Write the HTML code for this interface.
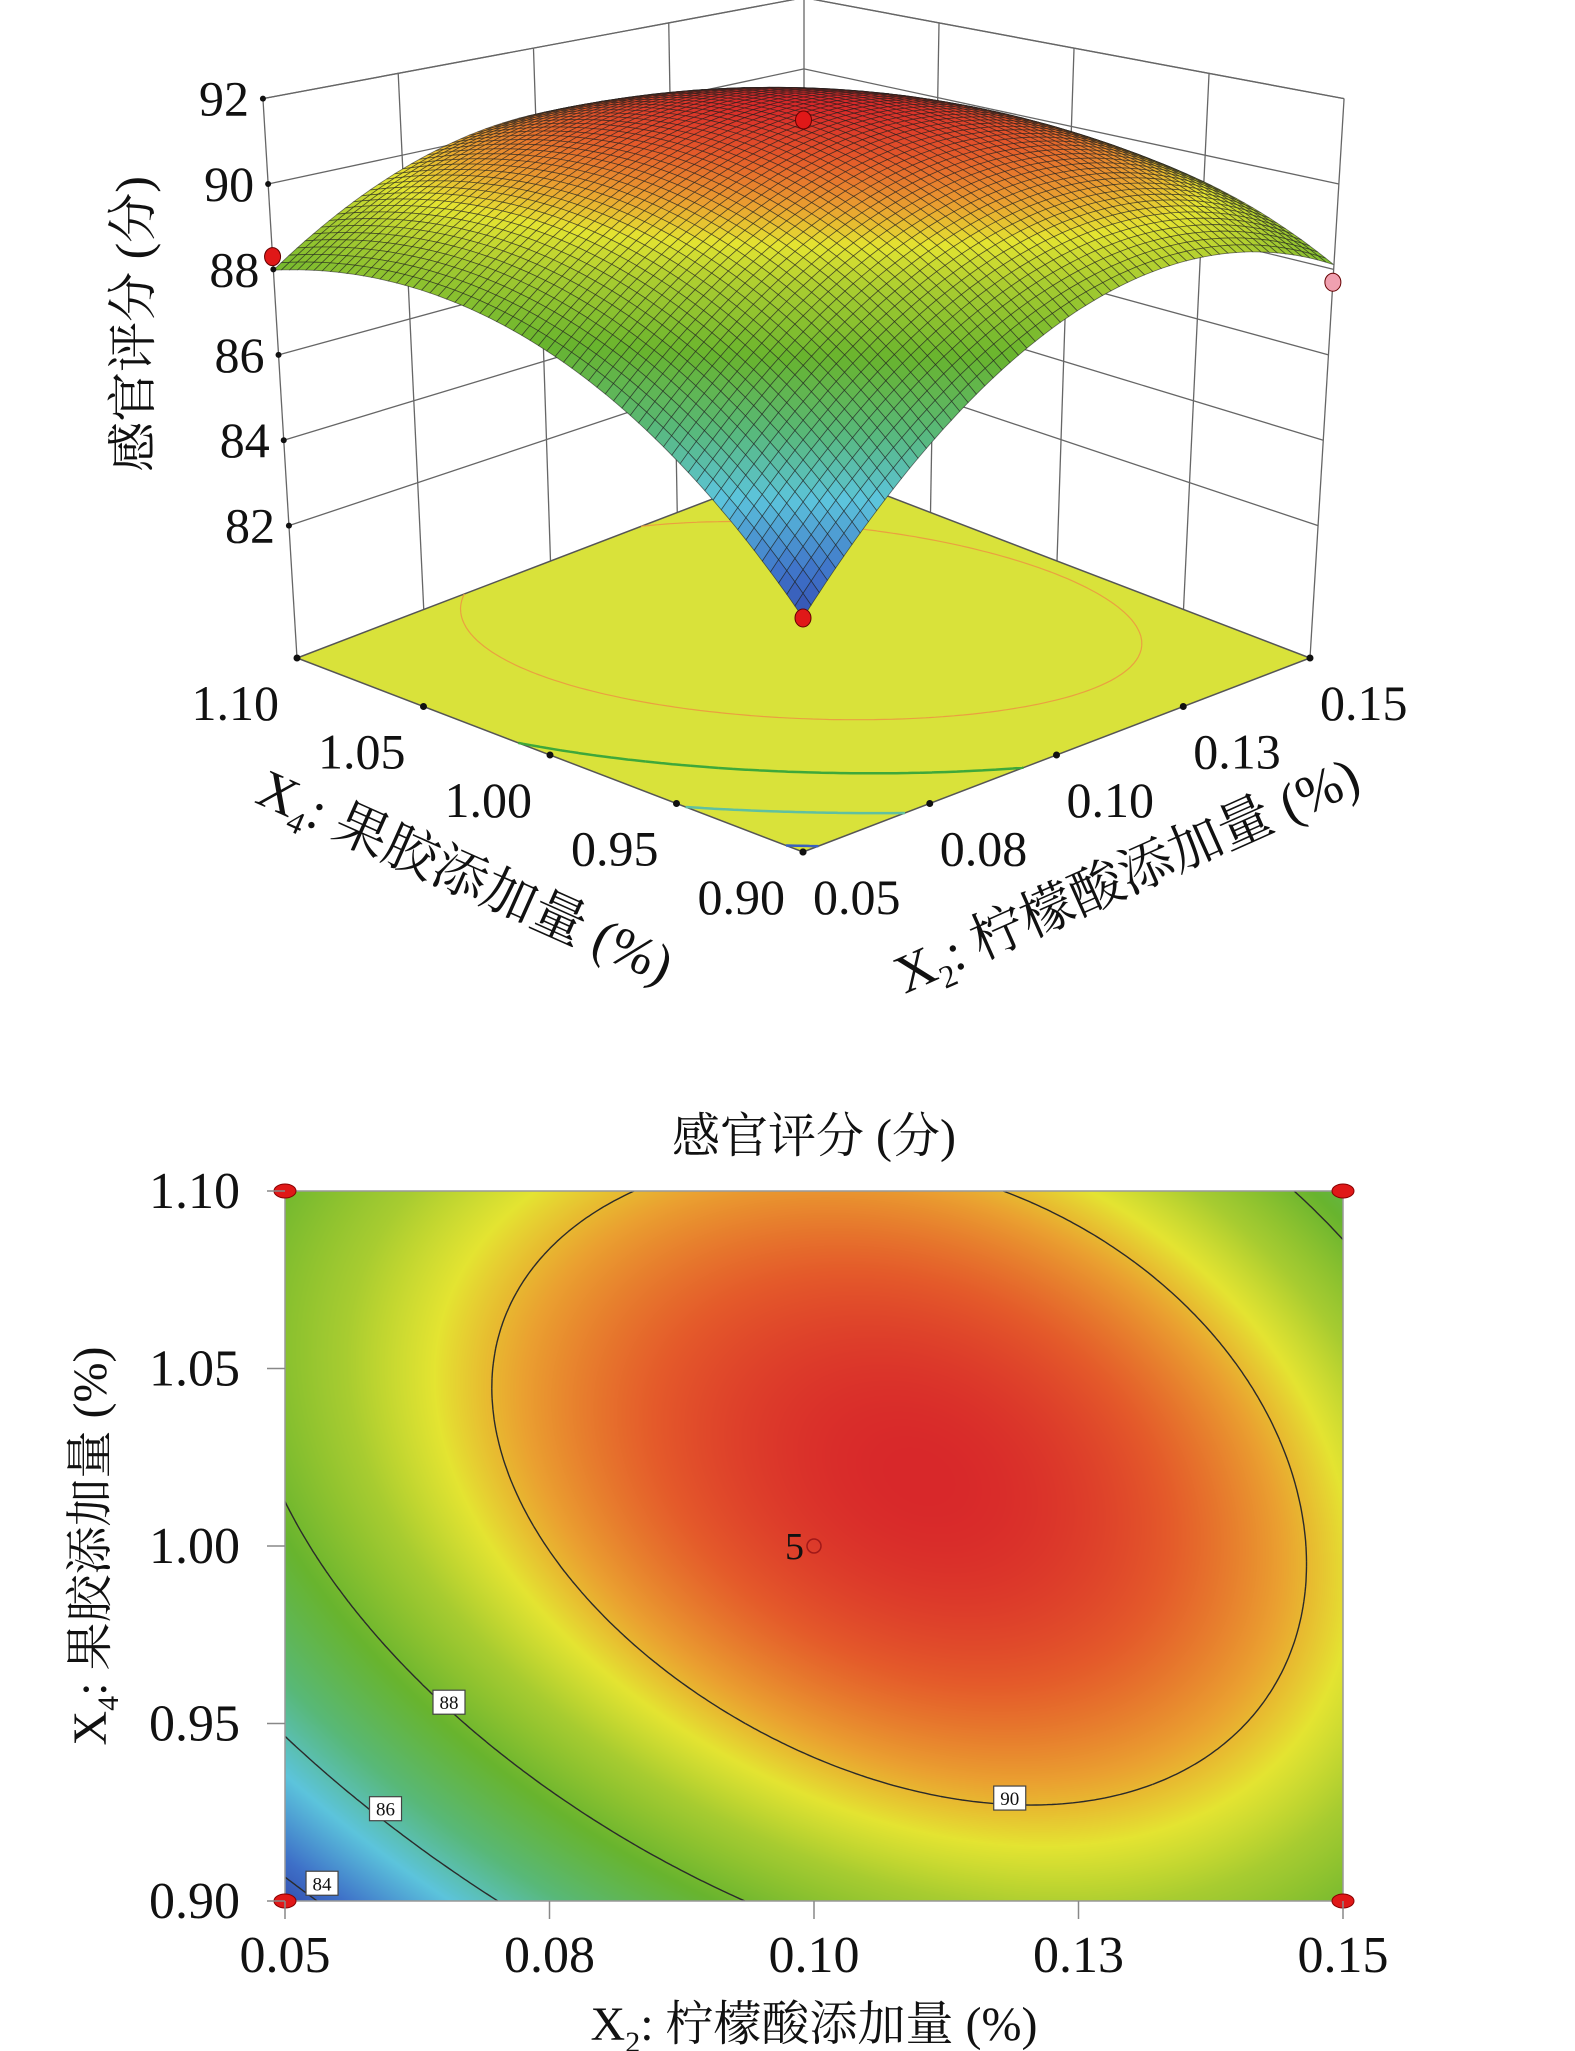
<!DOCTYPE html>
<html><head><meta charset="utf-8">
<style>
html,body{margin:0;padding:0;background:#fff;}
#wrap{position:relative;width:1575px;height:2051px;overflow:hidden;}
#heat{position:absolute;left:285px;top:1191px;}
svg{position:absolute;left:0;top:0;}
text{font-family:"Liberation Serif","Noto Serif CJK SC",serif;fill:#111;}
</style></head>
<body>
<div id="wrap">
<canvas id="heat" width="1058" height="710"></canvas>
<svg id="svg" width="1575" height="2051" xmlns="http://www.w3.org/2000/svg">
<g id="g3d"></g>
<g id="g2d"></g>
</svg>
</div>
<script>
// ---- data ----
const x2Ticks = [0.05, 0.075, 0.10, 0.125, 0.15];
const x2Labels = ['0.05', '0.08', '0.10', '0.13', '0.15'];
const x4Ticks = [0.90, 0.95, 1.00, 1.05, 1.10];
const x4Labels = ['0.90', '0.95', '1.00', '1.05', '1.10'];
const zTicks = [82, 84, 86, 88, 90, 92];
// sensory score grid: rows = x4Ticks (0.90 -> 1.10), cols = x2Ticks
const scoreRow090 = [83.6, 86.6, 88.3, 89.0, 88.2];
const scoreRow095 = [86.2, 88.6, 90.1, 90.6, 89.2];
const scoreRow100 = [87.8, 90.0, 91.5, 91.6, 89.7];
const scoreRow105 = [88.3, 90.2, 91.3, 91.0, 88.8];
const scoreRow110 = [88.0, 89.7, 90.6, 89.1, 87.8];
const contourLevels = [84, 86, 88, 90];
const designX2 = [0.10, 0.05, 0.15, 0.05];
const designX4 = [1.00, 1.10, 0.90, 0.90];
const designScore = [91.5, 88.3, 87.7, 83.6];

const grid = [scoreRow090, scoreRow095, scoreRow100, scoreRow105, scoreRow110];
const NS = 'http://www.w3.org/2000/svg';
function mk(tag, attrs, parent) {
  const e = document.createElementNS(NS, tag);
  for (const k in attrs) e.setAttribute(k, attrs[k]);
  parent.appendChild(e); return e;
}
// least-squares full cubic surface fitted to the grid
function basis(a,b){return [1,a,b,a*a,a*b,b*b,a*a*a,a*a*b,a*b*b,b*b*b];}
const coef=(function(){
  const n=10;const A=[];const y=[];
  for(let r=0;r<grid.length;r++)for(let c=0;c<grid[r].length;c++){
    A.push(basis(c/(grid[r].length-1)*2-1,r/(grid.length-1)*2-1));y.push(grid[r][c]);}
  const M=[];for(let i=0;i<n;i++){M.push([]);for(let j=0;j<=n;j++){let s=0;
    for(let k=0;k<A.length;k++)s+=A[k][i]*(j<n?A[k][j]:y[k]);M[i].push(s);}}
  for(let i=0;i<n;i++){let p=i;for(let k=i+1;k<n;k++)if(Math.abs(M[k][i])>Math.abs(M[p][i]))p=k;
    [M[i],M[p]]=[M[p],M[i]];
    for(let k=0;k<n;k++){if(k===i)continue;const fct=M[k][i]/M[i][i];for(let j=i;j<=n;j++)M[k][j]-=fct*M[i][j];}}
  return M.map((row,i)=>row[n]/row[i]);
})();
function f(u,v){const b=basis(u*2-1,v*2-1);let s=0;for(let i=0;i<b.length;i++)s+=b[i]*coef[i];return s;}
const uOf=x2=>(x2-x2Ticks[0])/(x2Ticks[x2Ticks.length-1]-x2Ticks[0]);
const vOf=x4=>(x4-x4Ticks[0])/(x4Ticks[x4Ticks.length-1]-x4Ticks[0]);
// colormap
const cstops=[[83,[44,56,156]],[84.3,[62,112,200]],[85.5,[92,196,220]],[86.6,[88,184,120]],[87.8,[104,180,46]],[88.9,[168,204,48]],[89.6,[228,228,49]],[90.2,[234,160,48]],[90.9,[228,90,42]],[91.5,[216,40,42]]];
function cmap(z){
  if(z<=cstops[0][0])return cstops[0][1];
  for(let k=1;k<cstops.length;k++){if(z<=cstops[k][0]){const a=cstops[k-1],b=cstops[k],t=(z-a[0])/(b[0]-a[0]);
    return [0,1,2].map(q=>Math.round(a[1][q]+(b[1][q]-a[1][q])*t));}}
  return cstops[cstops.length-1][1];
}
// marching squares
function contourSegs(level,N,M){
  const segs=[];const val=[];
  for(let j=0;j<=M;j++){val.push([]);for(let i=0;i<=N;i++)val[j].push(f(i/N,j/M));}
  for(let j=0;j<M;j++)for(let i=0;i<N;i++){
    const c=[[i,j,val[j][i]],[i+1,j,val[j][i+1]],[i+1,j+1,val[j+1][i+1]],[i,j+1,val[j+1][i]]];
    const pts=[];
    for(let k=0;k<4;k++){const a=c[k],b=c[(k+1)%4];
      if((a[2]-level)*(b[2]-level)<0){const t=(level-a[2])/(b[2]-a[2]);pts.push([(a[0]+(b[0]-a[0])*t)/N,(a[1]+(b[1]-a[1])*t)/M]);}}
    if(pts.length>=2)segs.push([pts[0],pts[1]]);
    if(pts.length===4)segs.push([pts[2],pts[3]]);
  }
  return segs;
}

// ===== 2D contour plot =====
const g2=document.getElementById('g2d');
const PX0=285,PX1=1343,PY0=1191,PY1=1901;
const sx=x2=>PX0+uOf(x2)*(PX1-PX0);
const sy=x4=>PY1-vOf(x4)*(PY1-PY0);
(function(){
  const cv=document.getElementById('heat');const ctx=cv.getContext('2d');
  const W=cv.width,H=cv.height;const img=ctx.createImageData(W,H);
  for(let y=0;y<H;y++)for(let x=0;x<W;x++){const c=cmap(f(x/(W-1),1-y/(H-1)));const o=(y*W+x)*4;
    img.data[o]=c[0];img.data[o+1]=c[1];img.data[o+2]=c[2];img.data[o+3]=255;}
  ctx.putImageData(img,0,0);
})();
contourLevels.forEach(L=>{
  let d='';contourSegs(L,200,140).forEach(s=>{d+='M'+(PX0+s[0][0]*(PX1-PX0)).toFixed(1)+','+(PY1-s[0][1]*(PY1-PY0)).toFixed(1)+'L'+(PX0+s[1][0]*(PX1-PX0)).toFixed(1)+','+(PY1-s[1][1]*(PY1-PY0)).toFixed(1);});
  const p=mk('path',{d:d,stroke:'#2a2a2a','stroke-width':1.4,fill:'none'},g2);
  
  
});
const fr=mk('rect',{x:PX0,y:PY0,width:PX1-PX0,height:PY1-PY0,fill:'none',stroke:'#999','stroke-width':1.5},g2);

// contour labels
const labX2=[0.0655,0.0595,0.0535,0.1185];const labX4=[0.956,0.926,0.905,0.929];const labTxt=['88','86','84','90'];
labTxt.forEach((t,k)=>{
  const g=mk('g',{},g2);
  mk('rect',{x:sx(labX2[k])-16,y:sy(labX4[k])-12,width:32,height:24,fill:'#fff',stroke:'#444','stroke-width':1.2},g);
  const tx=mk('text',{x:sx(labX2[k]),y:sy(labX4[k])+7,'text-anchor':'middle','font-size':19,'font-family':'Liberation Sans, sans-serif'},g);tx.textContent=t;
});
// center marker
const cm=mk('circle',{cx:sx(0.10),cy:sy(1.00),r:7,fill:'none',stroke:'#a01818','stroke-width':1.5},g2);

const cl=mk('text',{x:sx(0.10)-10,y:sy(1.00)+13,'text-anchor':'end','font-size':38},g2);cl.textContent='5';

// corner design points
[[0.05,1.10],[0.15,1.10],[0.05,0.90],[0.15,0.90]].forEach(p=>{
  const e=mk('ellipse',{cx:sx(p[0]),cy:sy(p[1]),rx:11,ry:7,fill:'#e01818',stroke:'#800','stroke-width':1},g2);
  
});
// ticks
x2Ticks.forEach((t,k)=>{
  mk('line',{x1:sx(t),x2:sx(t),y1:PY1,y2:PY1+18,stroke:'#888','stroke-width':1.5},g2);
  const tx=mk('text',{x:sx(t),y:1972,'text-anchor':'middle','font-size':52},g2);tx.textContent=x2Labels[k];
  
});
x4Ticks.forEach((t,k)=>{
  mk('line',{x1:PX0-18,x2:PX0,y1:sy(t),y2:sy(t),stroke:'#888','stroke-width':1.5},g2);
  const tx=mk('text',{x:240,y:sy(t)+17,'text-anchor':'end','font-size':52},g2);tx.textContent=x4Labels[k];
  
});
(function(){
  const t=mk('text',{x:814,y:1152,'text-anchor':'middle','font-size':48},g2);t.textContent='感官评分 (分)';
  
  const xt=mk('text',{x:814,y:2040,'text-anchor':'middle','font-size':48},g2);
  xt.innerHTML='X<tspan font-size="30" dy="12">2</tspan><tspan dy="-12">: 柠檬酸添加量 (%)</tspan>';
  
  const yt=mk('text',{x:0,y:0,'text-anchor':'middle','font-size':48,transform:'translate(106,1546) rotate(-90)'},g2);
  yt.innerHTML='X<tspan font-size="30" dy="12">4</tspan><tspan dy="-12">: 果胶添加量 (%)</tspan>';
  
})();

// ===== 3D surface =====
const g3=document.getElementById('g3d');
const F=[803,852],L=[297,658],R=[1310,658];
const zFloor=78.9;
function proj(u,v,z){
  const bx=F[0]+u*(R[0]-F[0])+v*(L[0]-F[0]);
  const by=F[1]+u*(R[1]-F[1])+v*(L[1]-F[1]);
  const kz=49.8-7.1*(u+v);
  return [bx+(z-zFloor)*(u-v)*2.6, by-(z-zFloor)*kz];
}
const P=(u,v,z)=>proj(u,v,z).map(q=>q.toFixed(1)).join(',');
const zTop=92;
function line3(a,b,attrs,name){const l=mk('line',Object.assign({x1:a[0],y1:a[1],x2:b[0],y2:b[1],stroke:'#666','stroke-width':1.3},attrs||{}),g3);
  return l;}
zTicks.forEach(z=>{
  line3(proj(0,1,z),proj(1,1,z),{},'left-wall-gridline');
  line3(proj(1,0,z),proj(1,1,z),{},'right-wall-gridline');
});
[0.25,0.5,0.75].forEach(t=>{
  line3(proj(t,1,zFloor),proj(t,1,zTop),{},'left-wall-gridline');
  line3(proj(1,t,zFloor),proj(1,t,zTop),{},'right-wall-gridline');
});
line3(proj(1,1,zFloor),proj(1,1,zTop),{},'back-edge');
// floor
const fl=mk('polygon',{points:[P(0,0,zFloor),P(1,0,zFloor),P(1,1,zFloor),P(0,1,zFloor)].join(' '),fill:'#d9e23a',stroke:'#555','stroke-width':1.5},g3);

const floorCol={84:'#3a60c0',86:'#60c0a0',88:'#3ea83a',90:'#eaa040'};
contourLevels.forEach(Lv=>{
  let d='';contourSegs(Lv,90,90).forEach(s=>{const a=proj(s[0][0],s[0][1],zFloor),b=proj(s[1][0],s[1][1],zFloor);
    d+='M'+a[0].toFixed(1)+','+a[1].toFixed(1)+'L'+b[0].toFixed(1)+','+b[1].toFixed(1);});
  const p=mk('path',{d:d,stroke:floorCol[Lv],'stroke-width':Lv===90?1.2:2.5,fill:'none'},g3);
  
});
// surface mesh
(function(){
  const N=64;const cells=[];
  for(let j=0;j<N;j++)for(let i=0;i<N;i++)cells.push([i,j]);
  cells.sort((a,b)=>(b[0]+b[1])-(a[0]+a[1]));
  const sg=mk('g',{},g3);
  let html='';
  cells.forEach(c=>{const u0=c[0]/N,u1=(c[0]+1)/N,v0=c[1]/N,v1=(c[1]+1)/N;
    const zc=f((u0+u1)/2,(v0+v1)/2);const col=cmap(zc);
    html+='<polygon points="'+P(u0,v0,f(u0,v0))+' '+P(u1,v0,f(u1,v0))+' '+P(u1,v1,f(u1,v1))+' '+P(u0,v1,f(u0,v1))+'" fill="rgb('+col.join(',')+')" stroke="#1c1c1c" stroke-opacity="0.6" stroke-width="0.8"/>';});
  sg.innerHTML=html;
})();
line3(proj(0,1,zTop),proj(1,1,zTop),{},'top-edge');
line3(proj(1,0,zTop),proj(1,1,zTop),{},'top-edge');
line3(proj(0,1,zFloor),proj(0,1,zTop),{},'left-z-axis');
line3(proj(1,0,zFloor),proj(1,0,zTop),{},'right-edge');
// design points
designX2.forEach((x,k)=>{
  const p=proj(uOf(x),vOf(designX4[k]),designScore[k]);
  const e=mk('ellipse',{cx:p[0],cy:p[1],rx:8,ry:9,fill:(x===0.15)?'#f0a0b0':'#e01818',stroke:'#600','stroke-width':1},g3);
  
});
// z ticks
zTicks.forEach(z=>{
  const p=proj(0,1,z);mk('circle',{cx:p[0],cy:p[1],r:3,fill:'#111'},g3);
  const t=mk('text',{x:p[0]-14,y:p[1]+17,'text-anchor':'end','font-size':50},g3);t.textContent=z;
  
});
// floor edge ticks & labels
x4Ticks.forEach((t,k)=>{
  const p=proj(0,vOf(t),zFloor);mk('circle',{cx:p[0],cy:p[1],r:3.5,fill:'#111'},g3);
  const tx=mk('text',{x:p[0]-18,y:p[1]+62,'text-anchor':'end','font-size':50},g3);tx.textContent=x4Labels[k];
  
});
x2Ticks.forEach((t,k)=>{
  const p=proj(uOf(t),0,zFloor);mk('circle',{cx:p[0],cy:p[1],r:3.5,fill:'#111'},g3);
  const tx=mk('text',{x:p[0]+10,y:p[1]+62,'text-anchor':'start','font-size':50},g3);tx.textContent=x2Labels[k];
  
});
(function(){
  const yt=mk('text',{x:0,y:0,'text-anchor':'middle','font-size':50,transform:'translate(150,324) rotate(-90)'},g3);yt.textContent='感官评分 (分)';
  
  const a=mk('text',{x:0,y:0,'text-anchor':'middle','font-size':54,transform:'translate(458,893) rotate(24)'},g3);
  a.innerHTML='X<tspan font-size="32" dy="12">4</tspan><tspan dy="-12">: 果胶添加量 (%)</tspan>';
  
  const b=mk('text',{x:0,y:0,'text-anchor':'middle','font-size':54,transform:'translate(1134,892) rotate(-24)'},g3);
  b.innerHTML='X<tspan font-size="32" dy="12">2</tspan><tspan dy="-12">: 柠檬酸添加量 (%)</tspan>';
  
})();
</script>
</body></html>
